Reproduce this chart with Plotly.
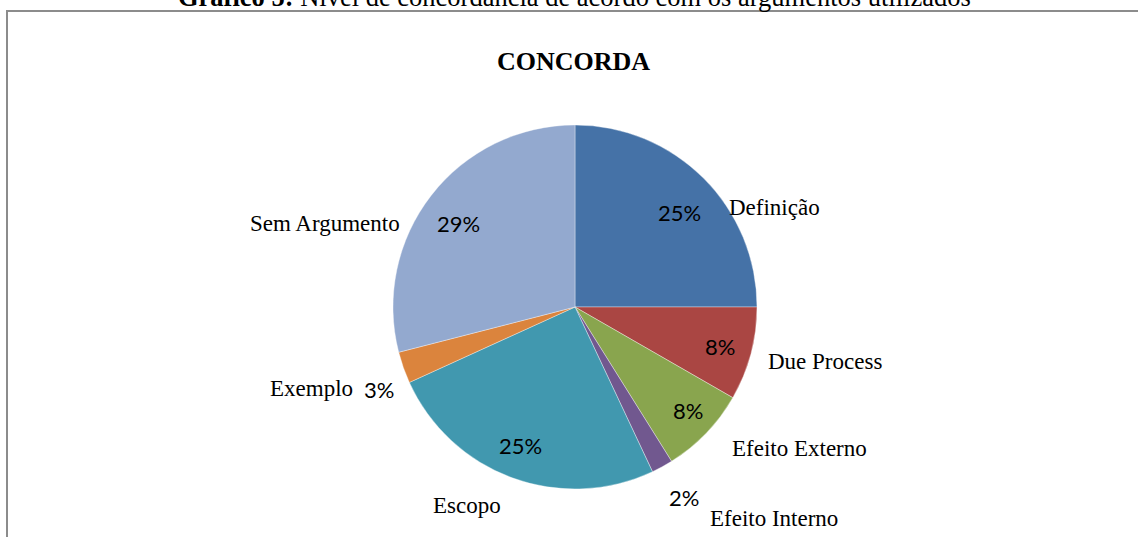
import plotly.graph_objects as go

categories = ["Definição", "Due Process", "Efeito Externo", "Efeito Interno",
              "Escopo", "Exemplo", "Sem Argumento"]
values = [25.0, 8.3, 7.8, 1.9, 25.2, 2.8, 29.0]
pct_labels = ["25%", "8%", "8%", "2%", "25%", "3%", "29%"]
colors = ["#4572A7", "#AA4643", "#89A54E", "#71588F", "#4198AF", "#DB843D", "#93A9CF"]

W, H = 1138, 537
cx, cy, r = 575, 307, 182

# label placements (pixels): category name and percent text
name_pos = [(727, 207, "left"), (766, 361, "left"), (730, 448, "left"),
            (708, 518, "left"), (467, 505, "center"), (355, 388, "right"),
            (402, 223, "right")]
pct_pos = [(679, 212), (720, 346), (688, 410), (684, 497), (520, 445), (379, 389), (458, 223)]

fig = go.Figure(go.Pie(
    labels=categories, values=values, sort=False, direction="clockwise", rotation=0,
    marker=dict(colors=colors, line=dict(color="rgba(255,255,255,0.6)", width=0.6)),
    textinfo="none", hoverinfo="label+percent", showlegend=False,
    domain=dict(x=[(cx - r) / W, (cx + r) / W], y=[(H - cy - r) / H, (H - cy + r) / H]),
))

ann = []
for (x, y, anc), name in zip(name_pos, categories):
    ann.append(dict(x=x / W, y=1 - y / H, xref="paper", yref="paper", text=name,
                    showarrow=False, xanchor=anc, yanchor="middle",
                    font=dict(family="Liberation Serif", size=23, color="black")))
for (x, y), t in zip(pct_pos, pct_labels):
    ann.append(dict(x=x / W, y=1 - y / H, xref="paper", yref="paper", text=t,
                    showarrow=False, xanchor="center", yanchor="middle",
                    font=dict(family="Lato", size=22, color="black")))
ann.append(dict(x=573 / W, y=1 - 61 / H, xref="paper", yref="paper", text="<b>CONCORDA</b>",
                showarrow=False, xanchor="center", yanchor="middle",
                font=dict(family="Liberation Serif", size=26, color="black")))
ann.append(dict(x=574 / W, y=1 + 3 / H, xref="paper", yref="paper",
                text="<b>Gráfico 5:</b> Nível de concordância de acordo com os argumentos utilizados",
                showarrow=False, xanchor="center", yanchor="middle",
                font=dict(family="Liberation Serif", size=26.5, color="black")))

fig.update_layout(
    width=W, height=H, margin=dict(l=0, r=0, t=0, b=0),
    paper_bgcolor="white", plot_bgcolor="white",
    annotations=ann,
    shapes=[dict(type="rect", xref="paper", yref="paper", x0=7 / W, x1=1.02,
                 y0=-0.02, y1=1 - 11 / H, line=dict(color="#8c8c8c", width=2))],
)

fig.write_html("out.html", config={"displayModeBar": False},
               post_script="document.body.style.margin='0';document.body.style.overflow='hidden';")
